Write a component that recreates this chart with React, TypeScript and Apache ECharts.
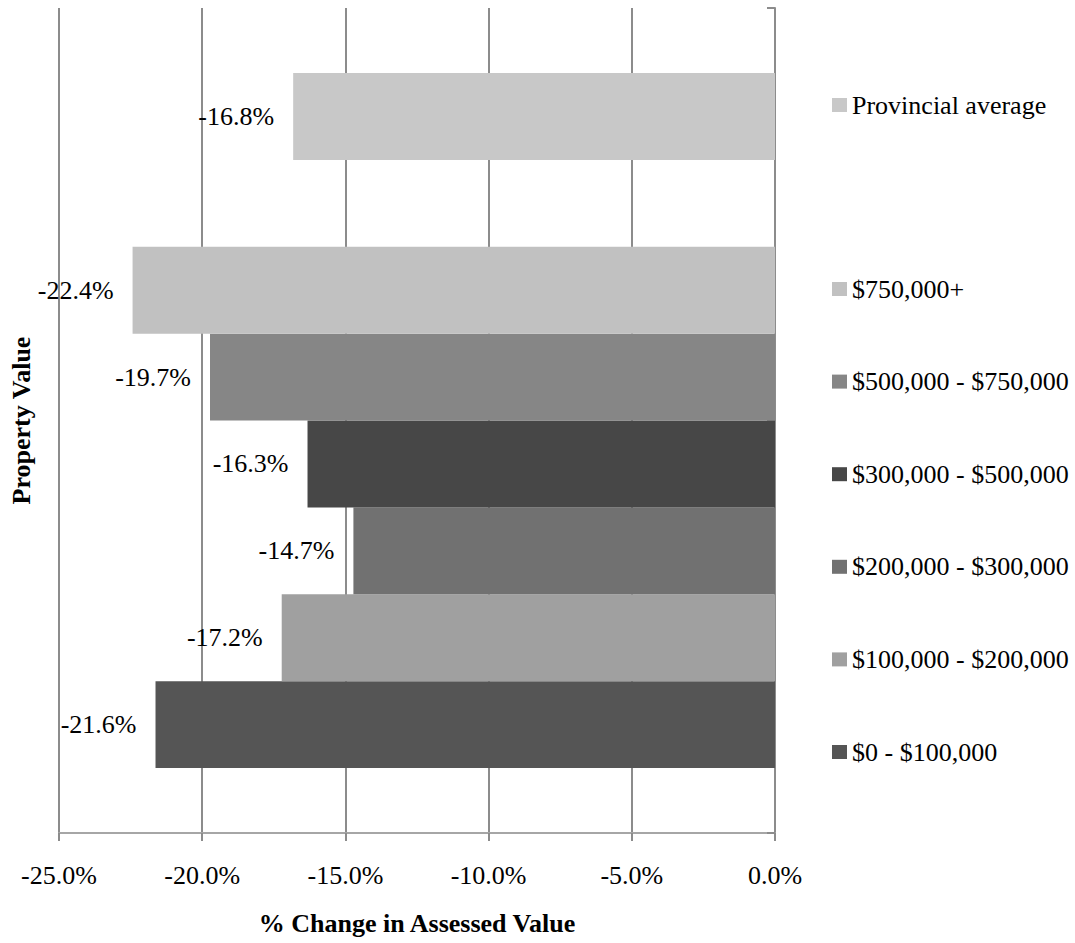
import { useEffect, useRef } from 'react';
import * as echarts from 'echarts';

// Assessed value change by property value band (percent)
const bands = [
  '$0 - $100,000',
  '$100,000 - $200,000',
  '$200,000 - $300,000',
  '$300,000 - $500,000',
  '$500,000 - $750,000',
  '$750,000+',
];
const bandChanges = [-21.6, -17.2, -14.7, -16.3, -19.7, -22.4];
const provincialName = 'Provincial average';
const provincialChange = -16.8;
const seriesColors = ['#555555', '#a0a0a0', '#717171', '#474747', '#868686', '#c1c1c1', '#c8c8c8'];
const xTicks = [-25, -20, -15, -10, -5, 0];

const FONT = "'Liberation Serif', 'Times New Roman', serif";
const GRID_COLOR = '#8c8c8c';

export default function App() {
  const ref = useRef<HTMLDivElement>(null);

  useEffect(() => {
    if (!ref.current) return;
    const chart = echarts.init(ref.current, undefined, { renderer: 'svg' });

    // bottom-to-top rows: six bands, a spacer row, then the provincial average
    const rows = [...bands, ' ', provincialName];
    const names = [...bands, provincialName];
    const values = [...bandChanges, provincialChange];

    const xMin = xTicks[0];
    const xMax = xTicks[xTicks.length - 1];
    const xStep = xTicks[1] - xTicks[0];

    const series = names.map((name, i) => ({
      name,
      type: 'bar' as const,
      xAxisIndex: 1,
      yAxisIndex: 2,
      barGap: '-100%',
      barCategoryGap: 0,
      itemStyle: { color: seriesColors[i] },
      label: {
        show: true,
        position: 'left' as const,
        distance: 19,
        color: '#000',
        fontFamily: FONT,
        fontSize: 26,
        formatter: (p: any) => `${Number(p.value).toFixed(1)}%`,
      },
      data: rows.map((r) => (r === name ? values[i] : '-')),
    }));

    const legendBase = {
      orient: 'vertical' as const,
      left: 827,
      icon: 'rect',
      itemWidth: 15,
      itemHeight: 14,
      selectedMode: false,
      textStyle: { fontFamily: FONT, fontSize: 26, lineHeight: 26, color: '#000' },
    };

    chart.setOption({
      animation: false,
      backgroundColor: '#fff',
      textStyle: { fontFamily: FONT },
      grid: [
        { left: 58, right: 300, top: 8, bottom: 110 },
        { left: 58, right: 300, top: 73, bottom: 175 },
      ],
      legend: [
        { ...legendBase, top: 87, data: [provincialName] },
        { ...legendBase, top: 271, itemGap: 66.6, data: [...bands].reverse() },
      ],
      xAxis: [
        {
          type: 'value',
          gridIndex: 0,
          min: xMin,
          max: xMax,
          interval: xStep,
          name: '% Change in Assessed Value',
          nameLocation: 'middle',
          nameGap: 77,
          nameTextStyle: { fontFamily: FONT, fontSize: 26, fontWeight: 'bold', color: '#000' },
          axisLine: { show: true, lineStyle: { color: '#a6a6a6', width: 2 } },
          axisTick: { show: true, length: 8, lineStyle: { color: GRID_COLOR, width: 2 } },
          axisLabel: {
            margin: 29,
            fontFamily: FONT,
            fontSize: 26,
            color: '#000',
            formatter: (v: number) => `${v.toFixed(1)}%`,
          },
          splitLine: { show: true, lineStyle: { color: GRID_COLOR, width: 2 } },
        },
        {
          type: 'value',
          gridIndex: 1,
          min: xMin,
          max: xMax,
          interval: xStep,
          show: false,
        },
      ],
      yAxis: [
        {
          type: 'category',
          gridIndex: 0,
          position: 'right',
          data: ['', ' '],
          axisLine: { show: true, onZero: false, lineStyle: { color: GRID_COLOR, width: 2 } },
          axisTick: { show: true, inside: true, length: 8, lineStyle: { color: GRID_COLOR, width: 2 } },
          axisLabel: { show: false },
          splitLine: { show: false },
        },
        {
          type: 'value',
          gridIndex: 0,
          position: 'left',
          name: 'Property Value',
          nameLocation: 'middle',
          nameRotate: 90,
          nameGap: 25,
          nameTextStyle: { fontFamily: FONT, fontSize: 26, fontWeight: 'bold', color: '#000' },
          axisLine: { show: false },
          axisTick: { show: false },
          axisLabel: { show: false },
          splitLine: { show: false },
        },
        {
          type: 'category',
          gridIndex: 1,
          data: rows,
          show: false,
        },
      ],
      series,
    });

    return () => chart.dispose();
  }, []);

  return (
    <div
      ref={ref}
      style={{ position: 'fixed', left: 0, top: 0, width: 1075, height: 943 }}
    />
  );
}
